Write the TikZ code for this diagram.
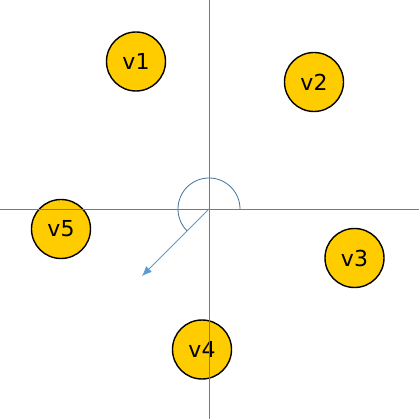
\documentclass[tikz,border=0pt]{standalone}
\usepackage{fontspec}
\setmainfont{DejaVu Sans}
\usetikzlibrary{arrows.meta}
\definecolor{axisblue}{RGB}{79,129,189}
\definecolor{arrowblue}{RGB}{91,155,213}
\definecolor{arcblue}{RGB}{65,113,156}
\definecolor{vgold}{RGB}{255,204,0}
\tikzset{
    vertex/.style={circle, draw=black, line width=1.4pt, fill=vgold,
        minimum size=59pt, inner sep=0pt, font=\fontsize{22}{26}\selectfont},
    axisline/.style={draw=axisblue, line width=0.8pt},
}
\begin{document}
\begin{tikzpicture}[x=1pt,y=1pt]
    \useasboundingbox (-209,-210) rectangle (210,209);

    % Vertices
    \foreach \name/\pos in {v1/{(-73,147.5)}, v2/{(105,127)}, v3/{(145.5,-49)},
                            v4/{(-7,-140.5)}, v5/{(-148,-20)}} {
        \node[vertex] (\name) at \pos {\name};
    }

    % Axes
    \coordinate (o) at (0,0);
    \coordinate (xl) at (-209,0);
    \coordinate (xr) at (210,0);
    \coordinate (yb) at (0,-210);
    \coordinate (yt) at (0,209);
    \draw[axisline] (xl) -- (xr);
    \draw[axisline] (yb) -- (yt);

    % Angle and direction
    \draw[arcblue, line width=0.8pt] (31,0) arc[start angle=0, end angle=225, radius=31];
    \coordinate (dir) at (225:95);
    \draw[arrowblue, line width=0.9pt, -{Latex[length=10pt,width=8pt]}] (o) -- (dir);

\end{tikzpicture}
\end{document}
